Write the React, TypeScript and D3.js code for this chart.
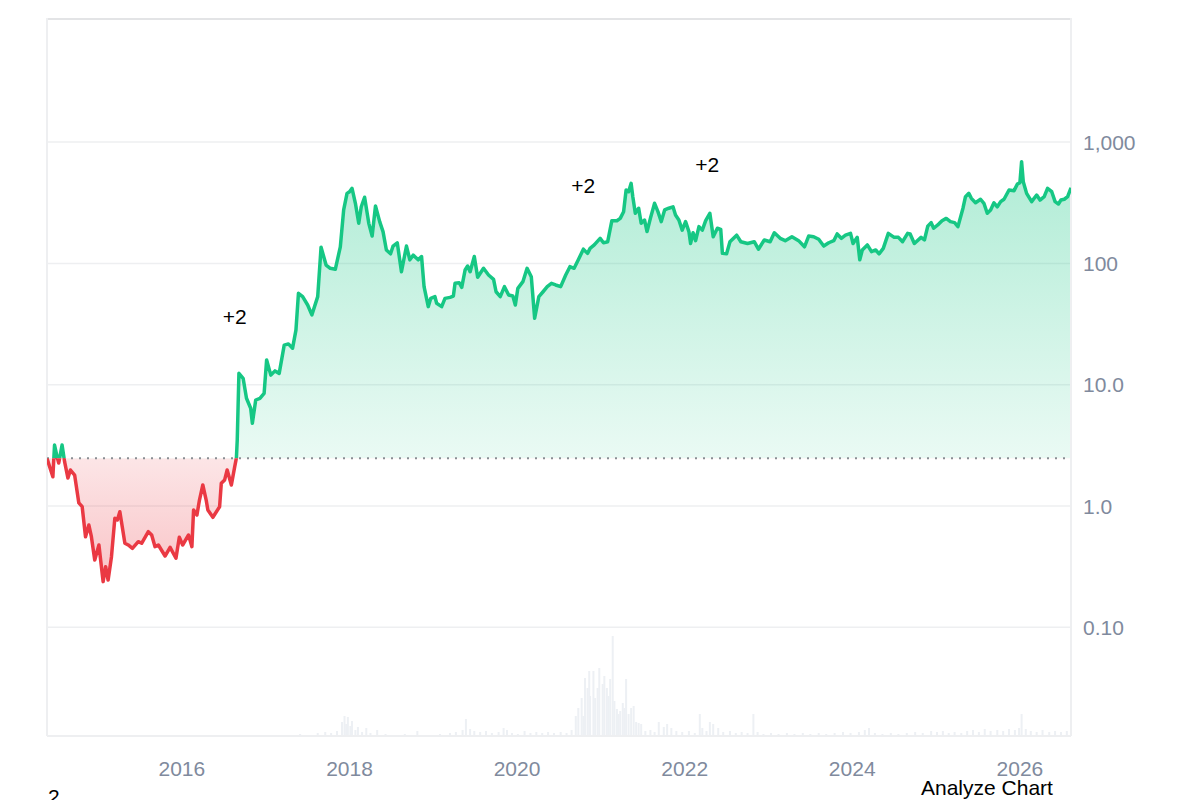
import * as d3 from "d3";
import { FC, useEffect, useRef } from "react";

const WIDTH = 1200;
const HEIGHT = 800;
const MARGIN = { top: 18, right: 129, bottom: 64, left: 47 };
const VOLUME_HEIGHT = 100;

const GREEN = "#16c784";
const RED = "#ea3943";
const MUTED = "#808a9d";
const FONT = "'Liberation Sans', Arial, Helvetica, sans-serif";

// [decimal year, price]
const price: [number, number][] = [
  [2014.39, 2.47], [2014.46, 1.74], [2014.48, 3.18], [2014.51, 2.55], [2014.53, 2.26],
  [2014.57, 3.18], [2014.6, 2.32], [2014.64, 1.7], [2014.67, 1.98], [2014.72, 1.8],
  [2014.77, 1.06], [2014.81, 0.987], [2014.85, 0.558], [2014.89, 0.697], [2014.92, 0.558],
  [2014.96, 0.359], [2015.01, 0.477], [2015.06, 0.238], [2015.09, 0.316], [2015.12, 0.245],
  [2015.16, 0.382], [2015.2, 0.792], [2015.23, 0.767], [2015.26, 0.898], [2015.32, 0.493],
  [2015.36, 0.477], [2015.41, 0.448], [2015.48, 0.508], [2015.52, 0.493], [2015.6, 0.614],
  [2015.64, 0.577], [2015.68, 0.462], [2015.72, 0.477], [2015.8, 0.387], [2015.86, 0.456],
  [2015.93, 0.371], [2015.97, 0.552], [2016.01, 0.477], [2016.08, 0.577], [2016.12, 0.462],
  [2016.14, 0.927], [2016.18, 0.843], [2016.21, 1.12], [2016.25, 1.49], [2016.29, 1.12],
  [2016.31, 0.927], [2016.37, 0.807], [2016.45, 0.987], [2016.47, 1.54], [2016.51, 1.64],
  [2016.54, 1.98], [2016.59, 1.49], [2016.63, 2.11], [2016.65, 2.49], [2016.66, 3.5],
  [2016.68, 12.4], [2016.73, 11.3], [2016.77, 7.73], [2016.82, 6.39], [2016.84, 4.81],
  [2016.88, 7.48], [2016.93, 7.73], [2016.98, 8.49], [2017.01, 16.0], [2017.06, 12.0],
  [2017.11, 13.0], [2017.16, 12.4], [2017.22, 21.2], [2017.27, 21.7], [2017.32, 20.0],
  [2017.36, 28.2], [2017.39, 56.7], [2017.44, 53.2], [2017.5, 45.4], [2017.55, 37.6],
  [2017.62, 53.2], [2017.66, 136], [2017.72, 97.0], [2017.77, 91.1], [2017.83, 89.4],
  [2017.89, 137], [2017.93, 276], [2017.97, 378], [2018.0, 390], [2018.03, 416],
  [2018.07, 313], [2018.11, 214], [2018.14, 293], [2018.18, 351], [2018.23, 214],
  [2018.27, 168], [2018.31, 297], [2018.36, 221], [2018.4, 183], [2018.44, 129],
  [2018.49, 120], [2018.52, 139], [2018.57, 148], [2018.62, 85.4], [2018.68, 139],
  [2018.72, 107], [2018.76, 117], [2018.82, 107], [2018.86, 114], [2018.89, 64.3],
  [2018.94, 44.0], [2018.97, 51.5], [2019.02, 53.2], [2019.04, 46.9], [2019.1, 44.0],
  [2019.14, 51.5], [2019.2, 52.5], [2019.24, 53.8], [2019.26, 68.5], [2019.31, 69.3],
  [2019.34, 63.5], [2019.38, 88.2], [2019.41, 95.2], [2019.44, 85.4], [2019.49, 114],
  [2019.53, 76.8], [2019.6, 91.1], [2019.66, 80.2], [2019.72, 73.9], [2019.75, 58.4],
  [2019.8, 53.2], [2019.85, 64.3], [2019.9, 54.9], [2019.95, 53.8], [2019.98, 45.4],
  [2020.01, 62.3], [2020.07, 70.7], [2020.12, 91.1], [2020.17, 77.7], [2020.21, 35.3],
  [2020.26, 53.2], [2020.31, 58.4], [2020.36, 64.3], [2020.41, 68.5], [2020.46, 66.4],
  [2020.52, 64.3], [2020.58, 80.2], [2020.63, 94.0], [2020.68, 91.1], [2020.73, 107],
  [2020.79, 131], [2020.84, 121], [2020.87, 133], [2020.92, 142], [2020.99, 161],
  [2021.03, 148], [2021.08, 151], [2021.13, 225], [2021.19, 225], [2021.23, 235],
  [2021.27, 267], [2021.3, 403], [2021.33, 390], [2021.36, 457], [2021.38, 355],
  [2021.41, 259], [2021.45, 285], [2021.48, 214], [2021.52, 228], [2021.55, 183],
  [2021.59, 235], [2021.64, 313], [2021.68, 267], [2021.72, 221], [2021.76, 276],
  [2021.81, 285], [2021.86, 293], [2021.89, 251], [2021.93, 228], [2021.97, 188],
  [2022.01, 221], [2022.05, 183], [2022.07, 146], [2022.1, 179], [2022.13, 154],
  [2022.17, 201], [2022.21, 188], [2022.25, 225], [2022.3, 259], [2022.34, 166],
  [2022.39, 195], [2022.43, 191], [2022.45, 121], [2022.5, 120], [2022.54, 151],
  [2022.62, 171], [2022.67, 151], [2022.75, 146], [2022.83, 151], [2022.88, 131],
  [2022.95, 156], [2023.02, 151], [2023.07, 179], [2023.14, 161], [2023.2, 154],
  [2023.28, 166], [2023.36, 154], [2023.43, 137], [2023.48, 168], [2023.54, 166],
  [2023.6, 158], [2023.66, 139], [2023.72, 148], [2023.78, 154], [2023.82, 175],
  [2023.87, 161], [2023.92, 171], [2023.98, 177], [2024.01, 146], [2024.06, 164],
  [2024.09, 107], [2024.12, 129], [2024.18, 142], [2024.23, 125], [2024.28, 129],
  [2024.32, 120], [2024.37, 133], [2024.43, 177], [2024.5, 164], [2024.55, 164],
  [2024.6, 151], [2024.66, 177], [2024.69, 175], [2024.74, 146], [2024.82, 164],
  [2024.86, 156], [2024.9, 203], [2024.94, 217], [2024.97, 195], [2025.03, 211],
  [2025.07, 225], [2025.12, 235], [2025.17, 221], [2025.22, 217], [2025.26, 201],
  [2025.32, 285], [2025.35, 355], [2025.39, 378], [2025.42, 344], [2025.47, 316],
  [2025.53, 338], [2025.57, 313], [2025.61, 259], [2025.65, 276], [2025.69, 316],
  [2025.73, 293], [2025.77, 323], [2025.81, 338], [2025.87, 403], [2025.93, 398],
  [2025.97, 451], [2026.0, 463], [2026.02, 689], [2026.04, 472], [2026.08, 378],
  [2026.14, 323], [2026.2, 366], [2026.24, 333], [2026.29, 355], [2026.33, 416],
  [2026.38, 390], [2026.42, 323], [2026.46, 309], [2026.49, 333], [2026.53, 338],
  [2026.57, 355], [2026.61, 420],
];

// [decimal year, relative volume]
const volume: [number, number][] = [
  [2017.41, 2], [2017.53, 1], [2017.62, 3], [2017.71, 4], [2017.78, 3], [2017.85, 5],
  [2017.91, 14], [2017.94, 20], [2017.96, 12], [2017.98, 19], [2018.01, 10], [2018.03, 15],
  [2018.07, 6], [2018.1, 9], [2018.15, 4], [2018.2, 8], [2018.25, 3], [2018.33, 6],
  [2018.43, 2], [2018.54, 1], [2018.66, 2], [2018.81, 5], [2018.94, 1], [2019.08, 2],
  [2019.2, 3], [2019.27, 4], [2019.35, 6], [2019.39, 17], [2019.44, 7], [2019.49, 5],
  [2019.56, 4], [2019.63, 5], [2019.7, 3], [2019.78, 4], [2019.84, 8], [2019.88, 6],
  [2019.94, 3], [2020.01, 2], [2020.09, 5], [2020.16, 3], [2020.23, 4], [2020.3, 3],
  [2020.37, 4], [2020.44, 3], [2020.52, 4], [2020.59, 3], [2020.65, 6], [2020.7, 20],
  [2020.73, 28], [2020.77, 38], [2020.79, 20], [2020.81, 58], [2020.84, 48], [2020.86, 65],
  [2020.87, 40], [2020.91, 65], [2020.93, 38], [2020.96, 48], [2020.98, 68], [2021.02, 52],
  [2021.04, 60], [2021.07, 48], [2021.09, 40], [2021.11, 57], [2021.14, 100], [2021.16, 35],
  [2021.19, 27], [2021.21, 22], [2021.23, 25], [2021.26, 33], [2021.28, 28], [2021.3, 57],
  [2021.33, 22], [2021.36, 28], [2021.39, 30], [2021.42, 14], [2021.45, 13], [2021.48, 12],
  [2021.53, 5], [2021.59, 6], [2021.64, 4], [2021.69, 14], [2021.75, 9], [2021.79, 12],
  [2021.84, 8], [2021.9, 5], [2021.97, 4], [2022.05, 5], [2022.12, 3], [2022.18, 22],
  [2022.21, 8], [2022.26, 5], [2022.3, 14], [2022.34, 12], [2022.4, 8], [2022.46, 4],
  [2022.54, 5], [2022.61, 3], [2022.68, 4], [2022.75, 3], [2022.82, 22], [2022.87, 4],
  [2022.94, 2], [2023.03, 3], [2023.12, 2], [2023.22, 3], [2023.31, 2], [2023.41, 3],
  [2023.5, 2], [2023.6, 3], [2023.69, 2], [2023.79, 3], [2023.89, 4], [2023.98, 3],
  [2024.08, 4], [2024.15, 6], [2024.2, 8], [2024.27, 3], [2024.36, 2], [2024.46, 3],
  [2024.55, 2], [2024.65, 3], [2024.75, 4], [2024.84, 3], [2024.94, 5], [2025.01, 4],
  [2025.08, 5], [2025.15, 3], [2025.22, 4], [2025.3, 3], [2025.37, 5], [2025.44, 6],
  [2025.51, 4], [2025.58, 7], [2025.65, 5], [2025.73, 6], [2025.8, 5], [2025.87, 7],
  [2025.94, 6], [2025.99, 8], [2026.02, 22], [2026.07, 7], [2026.13, 5], [2026.2, 4],
  [2026.27, 6], [2026.35, 4], [2026.42, 5], [2026.49, 4], [2026.56, 5],
];

const xTickYears = [2016, 2018, 2020, 2022, 2024, 2026];
const yTickValues = [0.1, 1, 10, 100, 1000];
const yTickLabels = ["0.10", "1.0", "10.0", "100", "1,000"];

const annotations: { year: number; value: number; label: string }[] = [
  { year: 2016.63, value: 31.7, label: "+2" },
  { year: 2020.79, value: 381, label: "+2" },
  { year: 2022.27, value: 567, label: "+2" },
];

const toDate = (y: number) => {
  const yr = Math.floor(y);
  const start = new Date(yr, 0, 1).getTime();
  const end = new Date(yr + 1, 0, 1).getTime();
  return new Date(start + (y - yr) * (end - start));
};

const App: FC = () => {
  const svgRef = useRef<SVGSVGElement | null>(null);

  useEffect(() => {
    if (!svgRef.current) return;
    const svg = d3.select(svgRef.current);
    svg.selectAll("*").remove();

    const left = MARGIN.left;
    const right = WIDTH - MARGIN.right;
    const top = MARGIN.top;
    const bottom = HEIGHT - MARGIN.bottom;

    const xScale = d3
      .scaleTime()
      .domain([toDate(price[0][0]), toDate(price[price.length - 1][0])])
      .range([left, right]);
    const yScale = d3.scaleLog().domain([0.0127, 10550]).range([bottom, top]);
    const vScale = d3
      .scaleLinear()
      .domain([0, d3.max(volume, (d) => d[1]) || 1])
      .range([bottom, bottom - VOLUME_HEIGHT]);

    const base = price[0][1];
    const baseY = yScale(base);
    const maxY = yScale(d3.max(price, (d) => d[1]) || base);
    const minY = yScale(d3.min(price, (d) => d[1]) || base);

    const defs = svg.append("defs");
    defs
      .append("clipPath")
      .attr("id", "above")
      .append("rect")
      .attr("x", left)
      .attr("y", top)
      .attr("width", right - left)
      .attr("height", baseY - top);
    defs
      .append("clipPath")
      .attr("id", "below")
      .append("rect")
      .attr("x", left)
      .attr("y", baseY)
      .attr("width", right - left)
      .attr("height", bottom - baseY);

    const greenGrad = defs
      .append("linearGradient")
      .attr("id", "greenFill")
      .attr("gradientUnits", "userSpaceOnUse")
      .attr("x1", 0)
      .attr("x2", 0)
      .attr("y1", maxY)
      .attr("y2", baseY);
    greenGrad.append("stop").attr("offset", 0).attr("stop-color", GREEN).attr("stop-opacity", 0.34);
    greenGrad.append("stop").attr("offset", 1).attr("stop-color", GREEN).attr("stop-opacity", 0.09);

    const redGrad = defs
      .append("linearGradient")
      .attr("id", "redFill")
      .attr("gradientUnits", "userSpaceOnUse")
      .attr("x1", 0)
      .attr("x2", 0)
      .attr("y1", baseY)
      .attr("y2", minY);
    redGrad.append("stop").attr("offset", 0).attr("stop-color", RED).attr("stop-opacity", 0.13);
    redGrad.append("stop").attr("offset", 1).attr("stop-color", RED).attr("stop-opacity", 0.3);

    // grid
    svg
      .append("g")
      .selectAll("line")
      .data(yTickValues)
      .enter()
      .append("line")
      .attr("x1", left)
      .attr("x2", right)
      .attr("y1", (d) => yScale(d))
      .attr("y2", (d) => yScale(d))
      .attr("stroke", "#eeeff1")
      .attr("stroke-width", 1.5);

    // volume
    svg
      .append("g")
      .selectAll("rect")
      .data(volume)
      .enter()
      .append("rect")
      .attr("x", (d) => xScale(toDate(d[0])) - 1)
      .attr("width", 2)
      .attr("y", (d) => vScale(d[1]))
      .attr("height", (d) => bottom - vScale(d[1]))
      .attr("fill", "#edf0f4");

    const area = d3
      .area<[number, number]>()
      .x((d) => xScale(toDate(d[0])))
      .y0(baseY)
      .y1((d) => yScale(d[1]));
    const line = d3
      .line<[number, number]>()
      .x((d) => xScale(toDate(d[0])))
      .y((d) => yScale(d[1]));

    svg.append("path").datum(price).attr("d", area).attr("fill", "url(#greenFill)").attr("clip-path", "url(#above)");
    svg.append("path").datum(price).attr("d", area).attr("fill", "url(#redFill)").attr("clip-path", "url(#below)");

    // frame
    const frame = svg.append("g").attr("fill", "none").attr("stroke-width", 2);
    frame.append("line").attr("x1", left).attr("x2", right).attr("y1", top + 1).attr("y2", top + 1).attr("stroke", "#e3e4e6");
    frame.append("line").attr("x1", left).attr("x2", left).attr("y1", top).attr("y2", bottom).attr("stroke", "#eeeff1");
    frame.append("line").attr("x1", right).attr("x2", right).attr("y1", top).attr("y2", bottom).attr("stroke", "#eeeff1");
    frame.append("line").attr("x1", left).attr("x2", right).attr("y1", bottom).attr("y2", bottom).attr("stroke", "#eeeff1");

    // baseline
    svg
      .append("line")
      .attr("x1", left)
      .attr("x2", right)
      .attr("y1", baseY)
      .attr("y2", baseY)
      .attr("stroke", "#8a8e94")
      .attr("stroke-width", 2)
      .attr("stroke-dasharray", "2,6");

    svg
      .append("path")
      .datum(price)
      .attr("d", line)
      .attr("fill", "none")
      .attr("stroke", GREEN)
      .attr("stroke-width", 3.5)
      .attr("stroke-linejoin", "round")
      .attr("clip-path", "url(#above)");
    svg
      .append("path")
      .datum(price)
      .attr("d", line)
      .attr("fill", "none")
      .attr("stroke", RED)
      .attr("stroke-width", 3.5)
      .attr("stroke-linejoin", "round")
      .attr("clip-path", "url(#below)");

    // axes labels
    svg
      .append("g")
      .selectAll("text")
      .data(yTickValues)
      .enter()
      .append("text")
      .attr("x", right + 12)
      .attr("y", (d) => yScale(d))
      .attr("dy", "0.36em")
      .attr("fill", MUTED)
      .attr("font-size", 21)
      .text((_, i) => yTickLabels[i]);

    svg
      .append("g")
      .selectAll("text")
      .data(xTickYears)
      .enter()
      .append("text")
      .attr("x", (d) => xScale(new Date(d, 0, 1)))
      .attr("y", bottom + 40)
      .attr("text-anchor", "middle")
      .attr("fill", MUTED)
      .attr("font-size", 21)
      .text((d) => String(d));

    svg
      .append("g")
      .selectAll("text")
      .data(annotations)
      .enter()
      .append("text")
      .attr("x", (d) => xScale(toDate(d.year)))
      .attr("y", (d) => yScale(d.value))
      .attr("text-anchor", "middle")
      .attr("fill", "#000")
      .attr("font-size", 21)
      .text((d) => d.label);

    svg.append("text").attr("x", 48).attr("y", 804).attr("font-size", 21).attr("fill", "#000").text("2");
    svg.append("text").attr("x", 921).attr("y", 795).attr("font-size", 21).attr("fill", "#000").text("Analyze Chart");
  }, []);

  return (
    <svg
      ref={svgRef}
      width={WIDTH}
      height={HEIGHT}
      style={{ position: "absolute", left: 0, top: 0, fontFamily: FONT, background: "#fff" }}
    />
  );
};

export default App;
